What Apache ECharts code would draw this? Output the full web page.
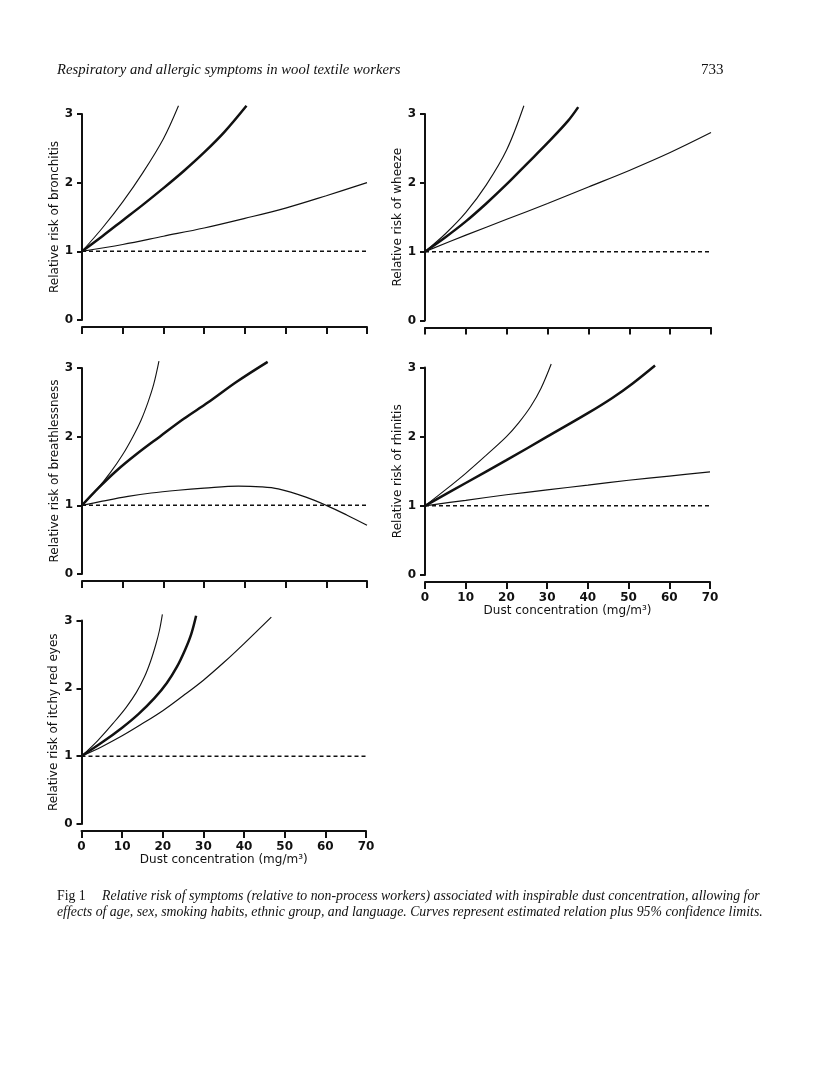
<!DOCTYPE html>
<html>
<head>
<meta charset="utf-8">
<script src="https://cdn.jsdelivr.net/npm/echarts@6/dist/echarts.min.js"></script>
<style>
html,body{margin:0;padding:0;background:#fff;}
#c{width:816px;height:1088px;}
</style>
</head>
<body>
<div id="c"></div>
<script>
// ---- data ----
const xTicks = [0, 10, 20, 30, 40, 50, 60, 70];
const yTicks = [0, 1, 2, 3];
const xTitle = 'Dust concentration (mg/m³)';
const panelNames = ['Relative risk of bronchitis', 'Relative risk of wheeze', 'Relative risk of breathlessness', 'Relative risk of rhinitis', 'Relative risk of itchy red eyes'];
const reference = [[0, 1], [70, 1]];

const bronchitisUpper = [[0,1],[5,1.34],[10,1.72],[15,2.15],[20,2.64],[23.7,3.12]];
const bronchitisMid   = [[0,1],[5,1.22],[10,1.45],[15,1.68],[20,1.92],[25,2.17],[30,2.44],[35,2.74],[40.4,3.12]];
const bronchitisLower = [[0,1],[10,1.1],[20,1.22],[30,1.34],[40,1.48],[50,1.63],[60,1.81],[70,2.0]];

const wheezeUpper = [[0,1],[5,1.26],[10,1.57],[15,1.97],[20,2.48],[24.2,3.12]];
const wheezeMid   = [[0,1],[5,1.21],[10,1.44],[15,1.7],[20,1.98],[25,2.28],[30,2.58],[35,2.9],[37.5,3.1]];
const wheezeLower = [[0,1],[10,1.24],[20,1.47],[30,1.7],[40,1.94],[50,2.18],[60,2.44],[70,2.73]];

const breathUpper = [[0,1],[3.5,1.22],[7,1.48],[10,1.74],[12.5,2.0],[14.5,2.24],[16.2,2.5],[17.6,2.76],[18.9,3.1]];
const breathMid   = [[0,1],[4,1.25],[8.4,1.5],[13.5,1.75],[19.1,2.0],[25,2.26],[31,2.5],[38,2.8],[45.6,3.09]];
const breathLower = [[0,1],[5,1.06],[11.3,1.13],[17,1.18],[23.6,1.22],[30,1.25],[38.4,1.28],[44,1.27],[48.2,1.24],[55,1.12],[60,1.0],[65,0.86],[70,0.71]];

const rhinitisUpper = [[0,1],[5,1.23],[10,1.47],[15,1.73],[20,2.0],[23,2.2],[26,2.44],[28.5,2.7],[31,3.05]];
const rhinitisMid   = [[0,1],[10,1.33],[20,1.66],[30,2.0],[40,2.34],[46,2.56],[51,2.77],[56.5,3.03]];
const rhinitisLower = [[0,1],[10,1.08],[20,1.16],[30,1.23],[40,1.3],[50,1.37],[60,1.43],[70,1.49]];

const eyesUpper = [[0,1],[4,1.23],[8,1.5],[11,1.72],[13.5,1.94],[15.5,2.17],[17,2.4],[18.3,2.65],[19.2,2.86],[19.9,3.09]];
const eyesMid   = [[0,1],[5,1.2],[10,1.42],[14,1.62],[18,1.86],[21,2.08],[23.5,2.32],[25.5,2.57],[27,2.8],[28.2,3.07]];
const eyesLower = [[0,1],[5,1.14],[10,1.3],[15,1.48],[20,1.67],[25,1.89],[30,2.12],[35,2.38],[40,2.66],[46.7,3.05]];

const panelCurves = [
  [bronchitisLower, bronchitisMid, bronchitisUpper],
  [wheezeLower, wheezeMid, wheezeUpper],
  [breathLower, breathMid, breathUpper],
  [rhinitisLower, rhinitisMid, rhinitisUpper],
  [eyesLower, eyesMid, eyesUpper]
];

// ---- layout ----
const grids = [
  {left: 82, top: 114, width: 285, height: 206},
  {left: 425, top: 114, width: 286, height: 206.5},
  {left: 82, top: 368, width: 285, height: 206},
  {left: 425, top: 367.5, width: 285, height: 207.5},
  {left: 81.5, top: 620.5, width: 284.5, height: 203.5}
];
const showXLabels = [false, false, false, true, true];
const FONT = '"DejaVu Sans", sans-serif';
const INK = '#111';

const xAxes = [], yAxes = [], series = [];
grids.forEach((g, i) => {
  xAxes.push({
    type: 'value', gridIndex: i, min: xTicks[0], max: xTicks[xTicks.length - 1], interval: 10,
    offset: 7,
    axisLine: {show: true, onZero: false, lineStyle: {color: INK, width: 2}},
    axisTick: {show: true, length: 7, inside: false, lineStyle: {color: INK, width: 2}},
    axisLabel: {show: showXLabels[i], color: INK, fontFamily: FONT, fontSize: 12, fontWeight: 'bold', margin: 10},
    splitLine: {show: false},
    name: showXLabels[i] ? xTitle : '', nameLocation: 'middle', nameGap: 23,
    nameTextStyle: {color: INK, fontFamily: FONT, fontSize: 12}
  });
  yAxes.push({
    type: 'value', gridIndex: i, min: yTicks[0], max: yTicks[yTicks.length - 1], interval: 1,
    axisLine: {show: true, onZero: false, lineStyle: {color: INK, width: 2}},
    axisTick: {show: true, length: 5, lineStyle: {color: INK, width: 2}},
    axisLabel: {color: INK, fontFamily: FONT, fontSize: 12, fontWeight: 'bold', margin: 9},
    splitLine: {show: false},
    name: panelNames[i], nameLocation: 'middle', nameGap: 16, nameRotate: 90,
    nameTextStyle: {color: INK, fontFamily: FONT, fontSize: 12}
  });
  series.push({
    type: 'line', xAxisIndex: i, yAxisIndex: i, data: reference, symbol: 'none', silent: true,
    lineStyle: {color: INK, width: 1.5, type: [4, 3]}
  });
  const widths = [1.2, 2.5, 1.1];
  panelCurves[i].forEach((d, k) => {
    series.push({
      type: 'line', xAxisIndex: i, yAxisIndex: i, data: d, symbol: 'none',
      smooth: 0.35,
      clip: false, silent: true,
      lineStyle: {color: INK, width: widths[k]}
    });
  });
});

const chart = echarts.init(document.getElementById('c'), null, {renderer: 'canvas'});
chart.setOption({
  backgroundColor: '#fff',
  animation: false,
  grid: grids,
  xAxis: xAxes,
  yAxis: yAxes,
  series: series,
  graphic: [
    {type: 'text', left: 57, top: 63, style: {text: 'Respiratory and allergic symptoms in wool textile workers', font: 'italic 14.7px "Liberation Serif", serif', fill: INK}},
    {type: 'text', left: 701, top: 63, style: {text: '733', font: '15px "Liberation Serif", serif', fill: INK}},
    {type: 'text', left: 57, top: 889, style: {text: 'Fig 1', font: '13.8px "Liberation Serif", serif', fill: INK}},
    {type: 'text', left: 102, top: 889, style: {text: 'Relative risk of symptoms (relative to non-process workers) associated with inspirable dust concentration, allowing for', font: 'italic 13.8px "Liberation Serif", serif', fill: INK}},
    {type: 'text', left: 57, top: 905, style: {text: 'effects of age, sex, smoking habits, ethnic group, and language. Curves represent estimated relation plus 95% confidence limits.', font: 'italic 13.8px "Liberation Serif", serif', fill: INK}}
  ]
});
</script>
</body>
</html>
